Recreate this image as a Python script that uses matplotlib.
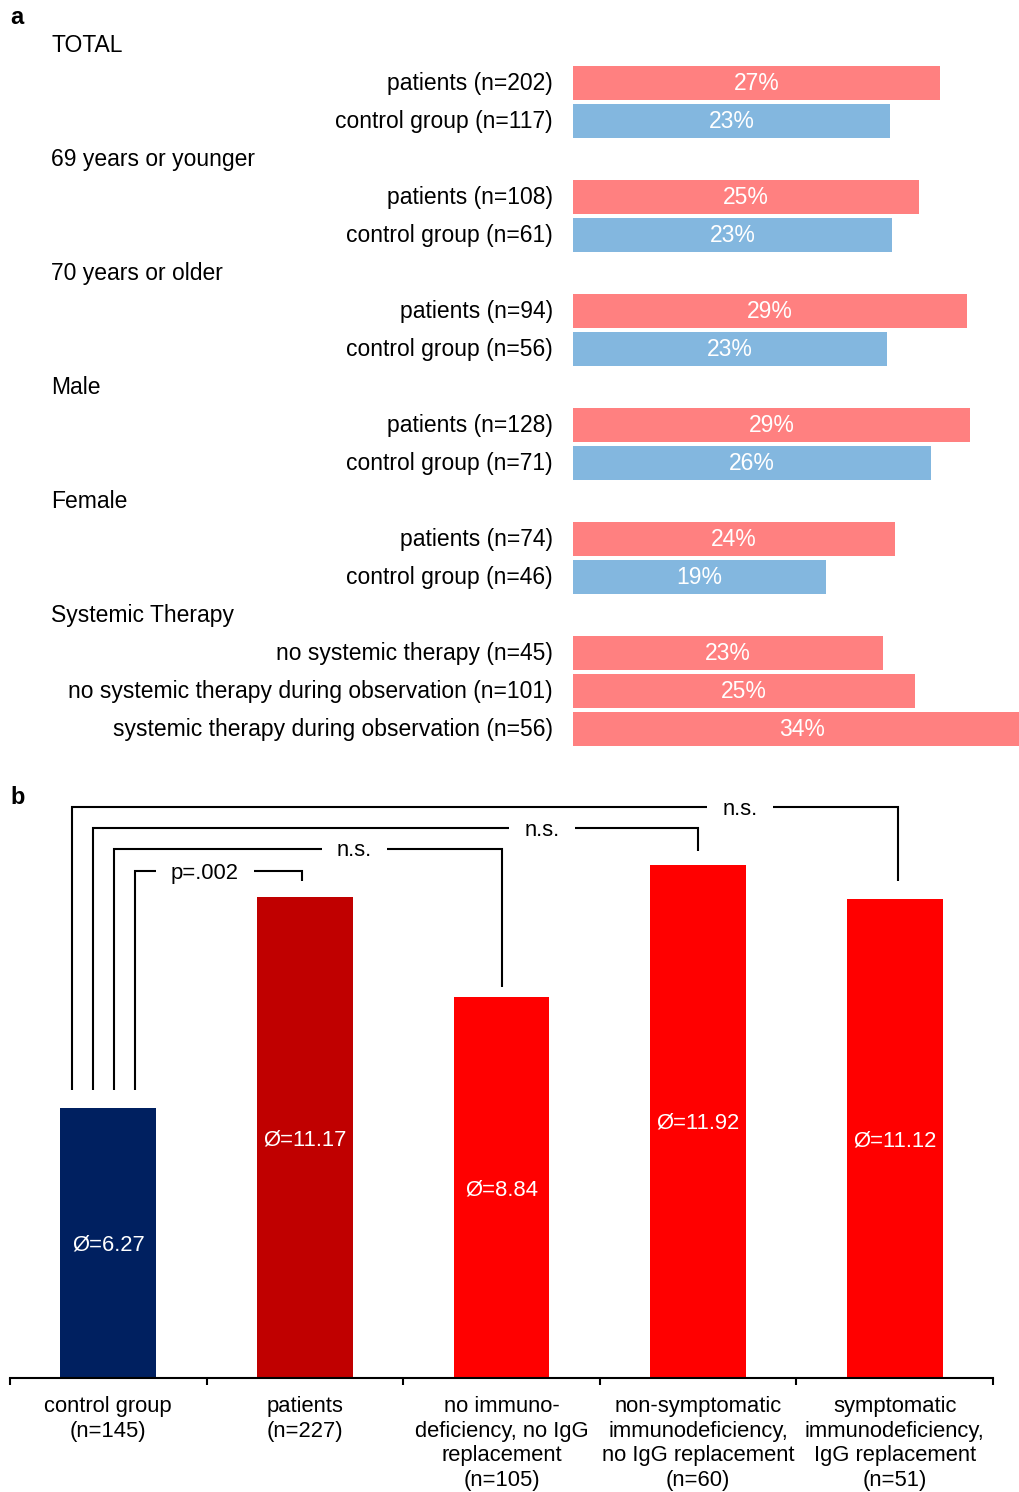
import matplotlib
matplotlib.use("Agg")
import matplotlib.pyplot as plt
import matplotlib.transforms as mtransforms

plt.rcParams['font.family'] = ['Liberation Sans', 'DejaVu Sans']
FS_A = 16.5
FS_B = 15.8

# ---- panel a data ----
groups = ['TOTAL', '69 years or younger', '70 years or older', 'Male', 'Female',
          'Systemic Therapy']
row_labels = [
    ['patients (n=202)', 'control group (n=117)'],
    ['patients (n=108)', 'control group (n=61)'],
    ['patients (n=94)', 'control group (n=56)'],
    ['patients (n=128)', 'control group (n=71)'],
    ['patients (n=74)', 'control group (n=46)'],
    ['no systemic therapy (n=45)', 'no systemic therapy during observation (n=101)',
     'systemic therapy during observation (n=56)'],
]
row_values = [
    [26.95, 23.27],
    [25.40, 23.42],
    [28.93, 23.05],
    [29.15, 26.28],
    [23.64, 18.58],
    [22.76, 25.11, 33.6],
]
row_text = [
    ['27%', '23%'],
    ['25%', '23%'],
    ['29%', '23%'],
    ['29%', '26%'],
    ['24%', '19%'],
    ['23%', '25%', '34%'],
]
row_kind = [
    ['p', 'c'], ['p', 'c'], ['p', 'c'], ['p', 'c'], ['p', 'c'], ['p', 'p', 'p'],
]

# ---- panel b data ----
cats = ['control group\n(n=145)', 'patients\n(n=227)',
        'no immuno-\ndeficiency, no IgG\nreplacement\n(n=105)',
        'non-symptomatic\nimmunodeficiency,\nno IgG replacement\n(n=60)',
        'symptomatic\nimmunodeficiency,\nIgG replacement\n(n=51)']
means = [6.27, 11.17, 8.84, 11.92, 11.12]
mean_text = ['Ø=6.27', 'Ø=11.17', 'Ø=8.84', 'Ø=11.92', 'Ø=11.12']
bar_colors = ['#002060', '#C00000', '#FF0000', '#FF0000', '#FF0000']

sig_text = ['p=.002', 'n.s.', 'n.s.', 'n.s.']
sig_left_x = [0.136, 0.029, -0.078, -0.185]
sig_right_x = [0.985, 2.0, 3.0, 4.015]
sig_top = [11.77, 12.29, 12.77, 13.26]
sig_left_bottom = 6.69
sig_right_bottom = [11.54, 9.08, 12.24, 11.54]
sig_text_x = [0.492, 1.252, 2.206, 3.213]

W, H = 1020, 1492
fig = plt.figure(figsize=(W / 100, H / 100), dpi=100)

# small downward nudges so glyphs sit centred like the original
down_a = mtransforms.ScaledTranslation(0, -0.6 / 72, fig.dpi_scale_trans)
down_b = mtransforms.ScaledTranslation(0, -1.5 / 72, fig.dpi_scale_trans)

# ================= panel a =================
ax1 = fig.add_axes([573 / W, 1 - 748 / H, 448 / W, 722 / H])
pos = 0
bar_y, bar_v, bar_c, bar_t, lab_y, lab_t, head_y = [], [], [], [], [], [], []
for g, labs, vals, txts, kinds in zip(groups, row_labels, row_values, row_text, row_kind):
    head_y.append(pos)
    pos += 1
    for l, v, t, k in zip(labs, vals, txts, kinds):
        bar_y.append(pos)
        bar_v.append(v)
        bar_t.append(t)
        bar_c.append('#FF8080' if k == 'p' else '#83B7DF')
        lab_y.append(pos)
        lab_t.append(l)
        pos += 1

ax1.barh(bar_y, bar_v, height=0.87, color=bar_c, left=0)
for y, v, t in zip(bar_y, bar_v, bar_t):
    ax1.text(v / 2, y, t, color='white', ha='center', va='center', fontsize=FS_A,
             transform=ax1.transData + down_a)
ax1.set_xlim(0, 448 / 13.62)
ax1.set_ylim(pos - 0.5, -0.5)
ax1.axis('off')

trans = mtransforms.blended_transform_factory(fig.transFigure, ax1.transData) + down_a
for y, t in zip(lab_y, lab_t):
    ax1.text(553 / W, y, t, transform=trans, ha='right', va='center', fontsize=FS_A)
for y, g in zip(head_y, groups):
    ax1.text(51 / W, y, g, transform=trans, ha='left', va='center', fontsize=FS_A)

fig.text(10 / W, 1 - 17 / H, 'a', fontsize=17, fontweight='bold', va='center')
fig.text(10 / W, 1 - 797 / H, 'b', fontsize=17, fontweight='bold', va='center')

# ================= panel b =================
ax2 = fig.add_axes([10 / W, 1 - 1378 / H, 983 / W, 588 / H])
x = list(range(len(cats)))
ax2.bar(x, means, width=0.488, color=bar_colors)
for xi, m, t in zip(x, means, mean_text):
    ax2.text(xi, m / 2, t, color='white', ha='center', va='center', fontsize=FS_B,
             transform=ax2.transData + down_b)

ax2.set_xlim(-0.5, len(cats) - 0.5)
ax2.set_ylim(0, 588 / 43.06)
for s in ['top', 'right', 'left']:
    ax2.spines[s].set_visible(False)
ax2.spines['bottom'].set_linewidth(1.5)
ax2.set_yticks([])
ax2.set_xticks(x)
ax2.set_xticklabels(cats, fontsize=FS_B, linespacing=1.24)
ax2.tick_params(axis='x', which='major', length=0, pad=12.8)
ax2.set_xticks([i - 0.5 for i in range(len(cats) + 1)], minor=True)
ax2.tick_params(axis='x', which='minor', length=5, width=1.5, direction='out')

fig.canvas.draw()
renderer = fig.canvas.get_renderer()
for t, xl, xr, yt, yr, tx in zip(sig_text, sig_left_x, sig_right_x, sig_top,
                                 sig_right_bottom, sig_text_x):
    txt = ax2.text(tx, yt, t, ha='center', va='center', fontsize=FS_B,
                   transform=ax2.transData + down_b)
    bb = txt.get_window_extent(renderer)
    half = (bb.width / 2 + 15) / (983 / 5)
    ax2.plot([xl, xl, tx - half], [sig_left_bottom, yt, yt], color='black',
             lw=1.5, solid_joinstyle='miter', solid_capstyle='butt', clip_on=False)
    ax2.plot([tx + half, xr, xr], [yt, yt, yr], color='black',
             lw=1.5, solid_joinstyle='miter', solid_capstyle='butt', clip_on=False)

fig.savefig('out.png', dpi=100)
